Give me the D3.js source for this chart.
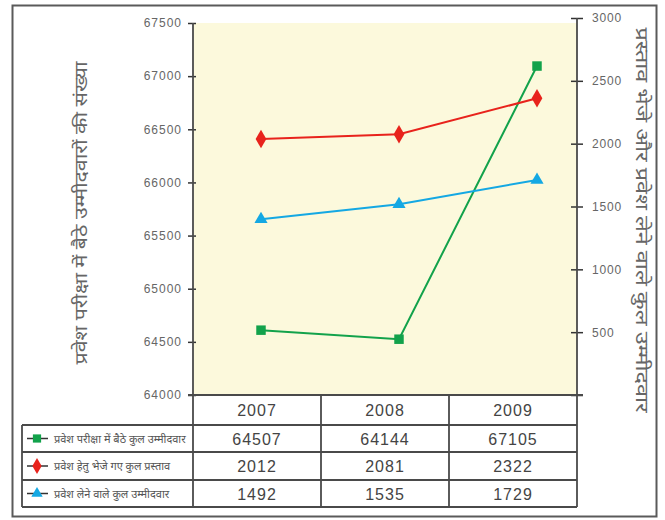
<!DOCTYPE html>
<html><head><meta charset="utf-8">
<script src="https://cdn.jsdelivr.net/npm/d3@7"></script>
<style>
body{margin:0;background:#fff}
svg{display:block}
.num{font-family:"Liberation Sans",Arial,sans-serif}
.hi{font-family:"Noto Sans Devanagari","Lohit Devanagari","Noto Sans","FreeSans",sans-serif}
</style>
</head><body>
<svg id="c" width="665" height="520"></svg>
<script>
// ---- data ----
const years = ["2007", "2008", "2009"];
const seriesNames = [
  "प्रवेश परीक्षा में बैठे कुल उम्मीदवार",
  "प्रवेश हेतु भेजे गए कुल प्रस्ताव",
  "प्रवेश लेने वाले कुल उम्मीदवार"
];
// values as plotted in the chart (left axis for the first, right axis for the others)
const appearedPlotted = [64610, 64525, 67095];
const offersPlotted = [2037, 2075, 2361];
const admittedPlotted = [1398, 1518, 1711];
// values printed in the table
const appearedTable = ["64507", "64144", "67105"];
const offersTable = ["2012", "2081", "2322"];
const admittedTable = ["1492", "1535", "1729"];
const leftTicks = [64000, 64500, 65000, 65500, 66000, 66500, 67000, 67500];
const rightTicks = [0, 500, 1000, 1500, 2000, 2500, 3000];
const leftTitle = "प्रवेश परीक्षा में बैठे उम्मीदवारों की संख्या";
const rightTitle = "प्रस्ताव भेजे और प्रवेश लेने वाले कुल उम्मीदवार";

// ---- layout ----
const svg = d3.select("#c");
const L = 193, R = 577, T = 23, B = 395;
const rowY = [395, 425, 452, 480, 507];
const legX = 22;
const lineCol = "#4a4a4a";

svg.append("rect").attr("x", 12.5).attr("y", 5.5).attr("width", 644).attr("height", 511)
  .attr("fill", "#fff").attr("stroke", "#5a5a5a").attr("stroke-width", 2);

svg.append("rect").attr("x", L).attr("y", T).attr("width", R - L).attr("height", B - T)
  .attr("fill", "#fcf9dc");

const yL = d3.scaleLinear().domain([64000, 67500]).range([B, T]);
const yR = d3.scaleLinear().domain([0, 3000]).range([B, 18]);
const xP = d3.scalePoint().domain(years).range([261, 537]);
const xB = d3.scaleBand().domain(years).range([L, R]);

// left axis
const gl = svg.append("g").attr("transform", `translate(${L},0)`)
  .call(d3.axisLeft(yL).tickValues(leftTicks).tickSize(0).tickPadding(11).tickFormat(d3.format("d")));
gl.select(".domain").remove();
gl.selectAll(".tick line").attr("x1", -5).attr("x2", 3).attr("stroke", "#333").attr("stroke-width", 1.5);
gl.selectAll(".tick text").attr("class", "num").attr("font-size", 12).attr("fill", "#666")
  .attr("letter-spacing", 1);
svg.append("line").attr("x1", L).attr("x2", L).attr("y1", T).attr("y2", rowY[4])
  .attr("stroke", lineCol).attr("stroke-width", 1.8);

// right axis
const gr = svg.append("g").attr("transform", `translate(${R},0)`)
  .call(d3.axisRight(yR).tickValues(rightTicks).tickSize(0).tickPadding(15)
    .tickFormat(d => d === 0 ? "" : d3.format("d")(d)));
gr.select(".domain").remove();
gr.selectAll(".tick line").attr("x1", -6).attr("x2", 6).attr("stroke", "#333").attr("stroke-width", 1.5);
gr.selectAll(".tick text").attr("class", "num").attr("font-size", 12).attr("fill", "#666")
  .attr("letter-spacing", 0.8);
svg.append("line").attr("x1", R).attr("x2", R).attr("y1", yR(3000)).attr("y2", rowY[4])
  .attr("stroke", lineCol).attr("stroke-width", 1.8);

// axis titles
svg.append("text").attr("class", "hi")
  .attr("transform", `translate(87,213) rotate(-90)`)
  .attr("text-anchor", "middle").attr("font-size", 17).attr("fill", "#666")
  .attr("textLength", 303).attr("lengthAdjust", "spacingAndGlyphs")
  .text(leftTitle);
svg.append("text").attr("class", "hi")
  .attr("transform", `translate(636,220) rotate(90)`)
  .attr("text-anchor", "middle").attr("font-size", 17).attr("fill", "#666")
  .attr("textLength", 385).attr("lengthAdjust", "spacingAndGlyphs")
  .text(rightTitle);

// series
const series = [
  {vals: appearedPlotted, y: yL, color: "#12a24b", shape: d3.symbolSquare, size: 90},
  {vals: offersPlotted, y: yR, color: "#e8231c", shape: d3.symbolDiamond, size: 100},
  {vals: admittedPlotted, y: yR, color: "#14a8e3", shape: d3.symbolTriangle, size: 75}
];
series.forEach(s => {
  const line = d3.line().x((d, i) => xP(years[i])).y(d => s.y(d));
  svg.append("path").datum(s.vals).attr("d", line).attr("fill", "none")
    .attr("stroke", s.color).attr("stroke-width", 2);
  svg.selectAll(null).data(s.vals).enter().append("path")
    .attr("d", d3.symbol().type(s.shape).size(s.size))
    .attr("transform", (d, i) => `translate(${xP(years[i])},${s.y(d)})`)
    .attr("fill", s.color);
});

// table grid
for (let r = 1; r < rowY.length; r++) {
  svg.append("line").attr("x1", legX).attr("x2", R).attr("y1", rowY[r]).attr("y2", rowY[r])
    .attr("stroke", lineCol).attr("stroke-width", 1.8);
}
svg.append("line").attr("x1", L - 5).attr("x2", R + 6).attr("y1", B).attr("y2", B)
  .attr("stroke", lineCol).attr("stroke-width", 1.8);
svg.append("line").attr("x1", legX).attr("x2", legX).attr("y1", rowY[1]).attr("y2", rowY[4])
  .attr("stroke", lineCol).attr("stroke-width", 1.8);
years.slice(1).forEach(y => {
  svg.append("line").attr("x1", xB(y)).attr("x2", xB(y)).attr("y1", B).attr("y2", rowY[4])
    .attr("stroke", lineCol).attr("stroke-width", 1.8);
});

// header
svg.selectAll(null).data(years).enter().append("text").attr("class", "num")
  .attr("x", d => xB(d) + xB.bandwidth() / 2).attr("y", (rowY[0] + rowY[1]) / 2 + 6)
  .attr("text-anchor", "middle").attr("font-size", 16).attr("letter-spacing", 1)
  .attr("fill", "#444").text(d => d);

// rows
const tables = [appearedTable, offersTable, admittedTable];
tables.forEach((vals, r) => {
  const cy = (rowY[r + 1] + rowY[r + 2]) / 2;
  svg.selectAll(null).data(vals).enter().append("text").attr("class", "num")
    .attr("x", (d, i) => xB(years[i]) + xB.bandwidth() / 2).attr("y", cy + 6)
    .attr("text-anchor", "middle").attr("font-size", 16).attr("letter-spacing", 1)
    .attr("fill", "#444").text(d => d);
  const s = series[r];
  svg.append("line").attr("x1", 27).attr("x2", 48).attr("y1", cy).attr("y2", cy)
    .attr("stroke", "#333").attr("stroke-width", 1.5);
  svg.append("path").attr("d", d3.symbol().type(s.shape).size(s.size * 0.75))
    .attr("transform", `translate(37,${cy})`).attr("fill", s.color);
  svg.append("text").attr("class", "hi").attr("x", 54).attr("y", cy + 4)
    .attr("font-size", 11).attr("fill", "#555").text(seriesNames[r]);
});
</script>
</body></html>
